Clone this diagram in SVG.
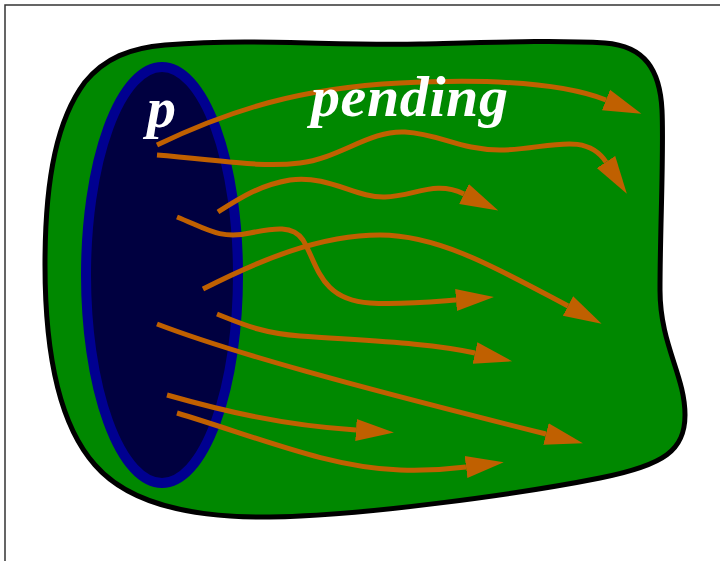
<svg xmlns="http://www.w3.org/2000/svg" width="720" height="561" viewBox="0 0 720 561">
  <style>
    .frame { fill: #ffffff; stroke: #333333; stroke-width: 1.5; }
    .body { fill: #008800; stroke: #000000; stroke-width: 5; stroke-linejoin: round; }
    .mouth { fill: #000040; stroke: #000090; stroke-width: 10; }
    .flow { fill: none; stroke: #c06000; stroke-width: 5; marker-end: url(#head); }
    .label { fill: #ffffff; font-family: "Liberation Serif", "Times New Roman", serif; font-style: italic; font-weight: bold; font-size: 58px; }
  </style>
  <defs>
    <marker id="head" markerUnits="userSpaceOnUse" markerWidth="40" markerHeight="26" viewBox="0 -12 40 24" refX="0" refY="0" orient="auto">
      <path d="M0,-11 L38,0 L0,11 Z" fill="#c06000"/>
    </marker>
  </defs>

  <!-- page frame -->
  <rect class="frame" x="5" y="5" width="730" height="570"/>

  <!-- tube body -->
  <g id="body">
    <path class="body" d="M165,45 C 260,38 330,46 420,44 C 500,42 560,40 605,43 C 645,46 660,70 662,110 C 664,150 660,230 660,290 C 660,345 685,375 685,415 C 685,450 665,465 600,478 C 520,494 360,516 270,517 C 190,518 128,503 95,465 C 55,420 45,340 45,265 C 45,175 58,118 85,82 C 105,58 130,48 165,45 Z"/>
  </g>

  <!-- open end of the tube -->
  <g id="opening">
    <ellipse class="mouth" cx="162" cy="275" rx="76" ry="208"/>
  </g>

  <!-- flow lines -->
  <g id="connectors">
    <path class="flow" d="M157,145 C 230,110 300,88 400,83 C 480,79 560,82 606,100"/>
    <path class="flow" d="M157,155 C 220,160 260,168 300,163 C 340,158 370,130 405,132 C 440,134 460,150 500,150 C 545,150 585,130 606,162"/>
    <path class="flow" d="M218,212 C 240,198 260,185 290,180 C 330,175 355,198 385,197 C 415,196 435,180 464,194"/>
    <path class="flow" d="M177,217 C 205,228 220,240 250,233 C 275,228 293,225 303,240 C 318,265 320,300 370,303 C 400,305 430,302 456,300"/>
    <path class="flow" d="M203,289 C 260,260 320,235 380,235 C 440,235 500,270 568,306"/>
    <path class="flow" d="M217,314 C 240,323 260,333 300,336 C 370,341 430,343 475,353"/>
    <path class="flow" d="M157,324 C 230,352 350,385 546,434"/>
    <path class="flow" d="M167,395 C 220,410 280,425 356,430"/>
    <path class="flow" d="M177,413 C 260,438 330,468 400,470 C 430,471 450,469 466,467"/>
  </g>

  <!-- labels -->
  <g id="label-p">
    <text class="label" x="147" y="127">p</text>
  </g>
  <g id="label-pending">
    <text class="label" x="311" y="116" letter-spacing="0.6">pending</text>
  </g>
</svg>
